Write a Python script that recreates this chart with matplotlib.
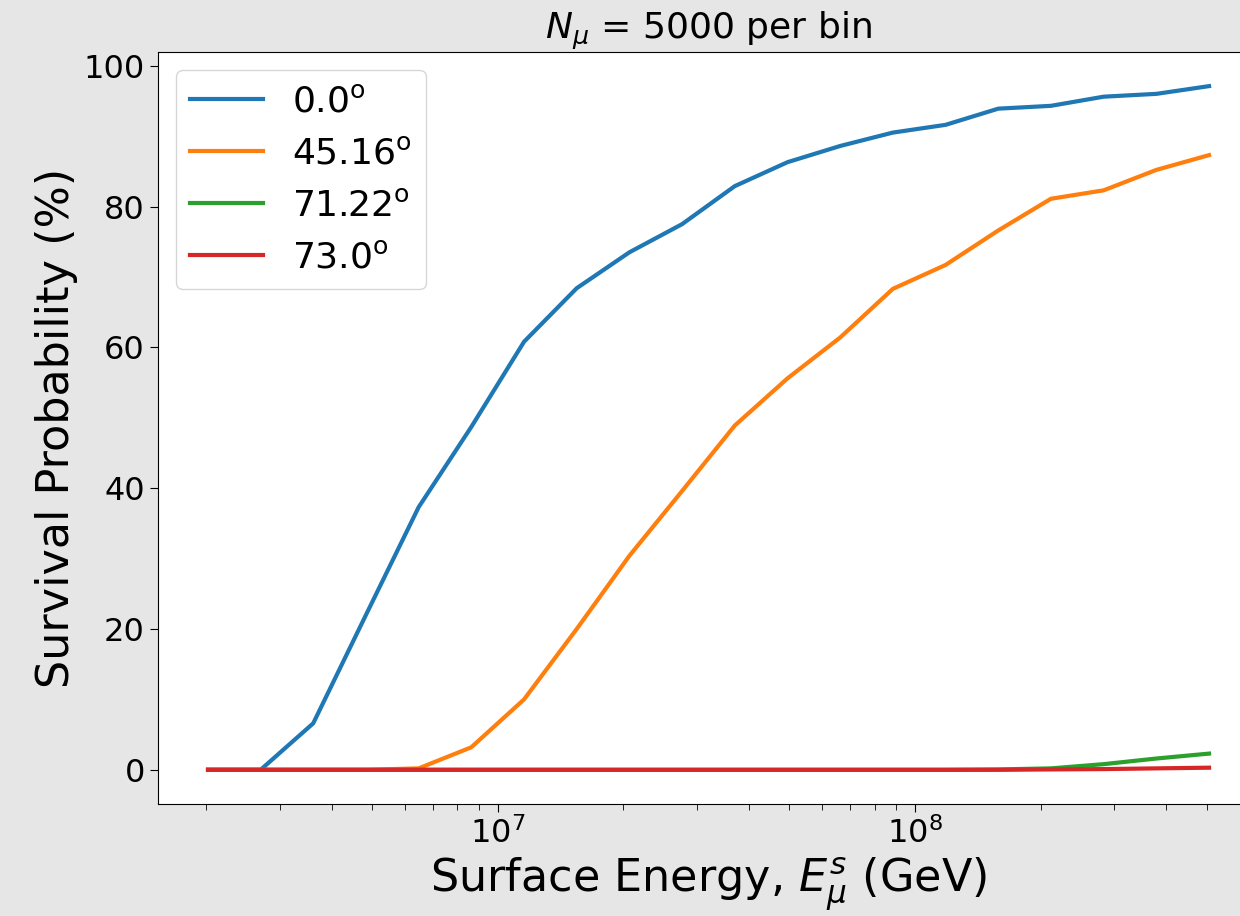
import matplotlib
matplotlib.use('Agg')
import matplotlib.pyplot as plt
import numpy as np

# surface energy bin centres (GeV), log spaced
energy = [2.02e6, 2.70e6, 3.61e6, 4.83e6, 6.46e6, 8.64e6, 1.156e7, 1.546e7, 2.068e7, 2.766e7,
          3.70e7, 4.95e7, 6.62e7, 8.85e7, 1.184e8, 1.584e8, 2.118e8, 2.834e8, 3.79e8, 5.07e8]

# survival probability (%) per zenith angle
p_00 = [0.0, 0.0, 6.6, 22.0, 37.3, 48.7, 60.8, 68.4, 73.5, 77.5,
        82.9, 86.3, 88.6, 90.5, 91.6, 93.9, 94.3, 95.6, 96.0, 97.1]
p_4516 = [0.0, 0.0, 0.0, 0.0, 0.2, 3.2, 10.0, 20.0, 30.4, 39.6,
          48.9, 55.6, 61.4, 68.3, 71.7, 76.6, 81.1, 82.3, 85.2, 87.3]
p_7122 = [0.0, 0.0, 0.0, 0.0, 0.0, 0.0, 0.0, 0.0, 0.0, 0.0,
          0.0, 0.0, 0.0, 0.0, 0.0, 0.05, 0.2, 0.8, 1.6, 2.3]
p_730 = [0.0, 0.0, 0.0, 0.0, 0.0, 0.0, 0.0, 0.0, 0.0, 0.0,
         0.0, 0.0, 0.0, 0.0, 0.0, 0.0, 0.05, 0.1, 0.2, 0.3]
labels = [r'0.0$^\mathrm{o}$', r'45.16$^\mathrm{o}$', r'71.22$^\mathrm{o}$', r'73.0$^\mathrm{o}$']

fig = plt.figure(figsize=(12.4, 9.16), dpi=100, facecolor='#e6e6e6')
ax = fig.add_axes([0.1274, 0.1223, 0.888, 0.821])
ax.set_facecolor('white')

for p, lab in zip([p_00, p_4516, p_7122, p_730], labels):
    ax.plot(energy, p, lw=3, label=lab)

ax.set_xscale('log')
ax.set_xlabel(r'Surface Energy, $E^s_\mu$ (GeV)', fontsize=32)
ax.set_ylabel('Survival Probability (%)', fontsize=32)
ax.set_title(r'$N_\mu$ = 5000 per bin', fontsize=26)
ax.tick_params(axis='both', which='major', labelsize=23, length=6)
ax.tick_params(axis='both', which='minor', length=4)
ax.legend(loc='upper left', fontsize=26)

fig.savefig('out.png', dpi=100, facecolor=fig.get_facecolor())
